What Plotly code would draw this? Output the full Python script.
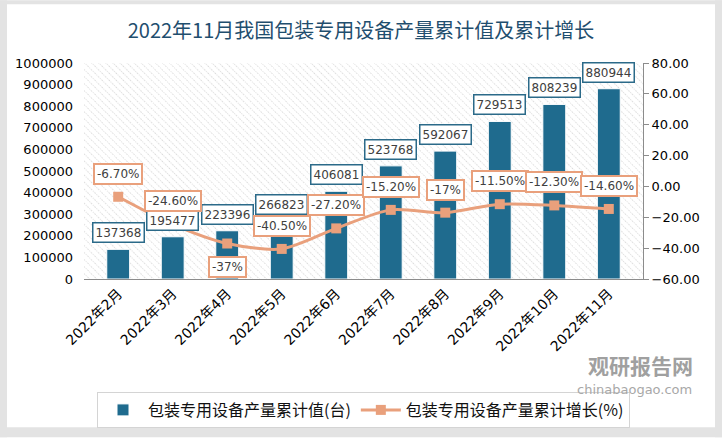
import base64
import plotly.graph_objects as go

# ---------------- data ----------------
months = ["2022年2月", "2022年3月", "2022年4月", "2022年5月", "2022年6月",
          "2022年7月", "2022年8月", "2022年9月", "2022年10月", "2022年11月"]
cum_values = [137368, 195477, 223396, 266823, 406081, 523768, 592067, 729513, 808239, 880944]
cum_growth = [-6.70, -24.60, -37.0, -40.50, -27.20, -15.20, -17.0, -11.50, -12.30, -14.60]
left_ticks = [0, 100000, 200000, 300000, 400000, 500000, 600000, 700000, 800000, 900000, 1000000]
right_ticks = [-60, -40, -20, 0, 20, 40, 60, 80]

bar_name = "包装专用设备产量累计值(台)"
line_name = "包装专用设备产量累计增长(%)"
title_text = "2022年11月我国包装专用设备产量累计值及累计增长"

# ---------------- layout geometry ----------------
W, H = 722, 439
L, R, T, B = 84, 643, 63, 280
PW, PH = R - L, B - T


def px_x(px):
    return (px - L) / PW


def px_y(py):
    return (B - py) / PH


BAR_COLOR = "#1f6b8e"
LINE_COLOR = "#e9a07c"
TEXT_COLOR = "#404040"


def fmt_pct(v):
    if float(v).is_integer():
        return f"{int(v)}%"
    return f"{v:.2f}%"


fig = go.Figure()
fig.add_trace(go.Bar(
    x=months, y=cum_values, name=bar_name,
    marker=dict(color=BAR_COLOR, line=dict(color="white", width=1)),
    yaxis="y",
))
fig.add_trace(go.Scatter(
    x=months, y=cum_growth, name=line_name, mode="lines+markers",
    line=dict(color=LINE_COLOR, width=3, shape="spline", smoothing=0.8),
    marker=dict(symbol="square", size=10, color=LINE_COLOR),
    yaxis="y2",
))

annotations = []
for m, v in zip(months, cum_values):
    annotations.append(dict(
        x=m, y=v, xref="x", yref="y", text=str(v), showarrow=False,
        yanchor="bottom", yshift=6,
        font=dict(family="DejaVu Sans", size=12, color=TEXT_COLOR),
        bgcolor="white", bordercolor="#2b6a89", borderwidth=1.5, borderpad=2,
    ))
below = {"2022年4月"}
for m, g in zip(months, cum_growth):
    annotations.append(dict(
        x=m, y=g, xref="x", yref="y2", text=fmt_pct(g), showarrow=False,
        yanchor="middle", yshift=-23 if m in below else 23,
        font=dict(family="DejaVu Sans", size=12, color=TEXT_COLOR),
        bgcolor="white", bordercolor=LINE_COLOR, borderwidth=2, borderpad=2,
    ))

# watermark
annotations.append(dict(
    x=px_x(640), y=px_y(366), xref="paper", yref="paper", text="<b>观研报告网</b>",
    xanchor="center", yanchor="middle",
    showarrow=False, font=dict(family="Noto Sans CJK SC", size=21, color="#a0a0a0"),
))
annotations.append(dict(
    x=px_x(634), y=px_y(391), xref="paper", yref="paper", text="chinabaogao.com",
    xanchor="center", yanchor="middle",
    showarrow=False, font=dict(family="DejaVu Sans", size=13, color="#a8a8a8"),
))

# hatched plot background
svg = (
    f"<svg xmlns='http://www.w3.org/2000/svg' width='{PW}' height='{PH}'>"
    "<defs><pattern id='p' width='5' height='5' patternUnits='userSpaceOnUse' "
    "patternTransform='rotate(-45)'>"
    "<line x1='0' y1='0' x2='0' y2='5' stroke='#b8b8b8' stroke-width='1' stroke-dasharray='1,1.2'/>"
    "</pattern></defs>"
    "<rect width='100%' height='100%' fill='white'/>"
    "<rect width='100%' height='100%' fill='url(#p)'/></svg>"
)
svg_uri = "data:image/svg+xml;base64," + base64.b64encode(svg.encode()).decode()

gray = "#e3e3e3"
shapes = [
    dict(type="rect", xref="paper", yref="paper", x0=px_x(0), x1=px_x(7), y0=px_y(H), y1=px_y(0),
         fillcolor=gray, line=dict(width=0), layer="above"),
    dict(type="rect", xref="paper", yref="paper", x0=px_x(715), x1=px_x(W), y0=px_y(H), y1=px_y(0),
         fillcolor=gray, line=dict(width=0), layer="above"),
    dict(type="rect", xref="paper", yref="paper", x0=px_x(0), x1=px_x(W), y0=px_y(4), y1=px_y(0),
         fillcolor=gray, line=dict(width=0), layer="above"),
    dict(type="rect", xref="paper", yref="paper", x0=px_x(0), x1=px_x(W), y0=px_y(H), y1=px_y(429),
         fillcolor=gray, line=dict(width=0), layer="above"),
]

fig.update_layout(
    width=W, height=H,
    margin=dict(l=L, r=W - R, t=T, b=H - B, pad=0),
    paper_bgcolor="white", plot_bgcolor="rgba(0,0,0,0)",
    title=dict(text=title_text, x=0.5, xref="container", xanchor="center",
               y=1 - 31 / H, yref="container", yanchor="middle",
               font=dict(family="Noto Sans CJK SC", size=20, color="#1f4e6e")),
    bargap=0.58,
    showlegend=True,
    legend=dict(orientation="h", x=0.5, xanchor="center", y=px_y(392), yanchor="top",
                bordercolor="#d4d4d4", borderwidth=1, bgcolor="white",
                font=dict(family="Noto Sans CJK SC", size=16, color="#111111"),
                itemwidth=40, traceorder="normal"),
    xaxis=dict(showgrid=False, showline=True, linecolor="#8c8c8c", linewidth=1,
               ticks="", tickangle=-45,
               tickfont=dict(family="DejaVu Sans, Noto Sans CJK SC", size=14, color="#000000")),
    yaxis=dict(range=[0, 1000000], tickvals=left_ticks, tickformat="d",
               showgrid=False, showline=False, zeroline=False, ticks="",
               ticklabelstandoff=10,
               tickfont=dict(family="DejaVu Sans", size=13, color="#000000")),
    yaxis2=dict(range=[-60, 80], tickvals=right_ticks, overlaying="y", side="right",
                tickformat=".2f", ticksuffix="%", showgrid=False, zeroline=False,
                showline=True, linecolor="#8c8c8c", linewidth=1,
                ticks="outside", ticklen=5, tickcolor="#8c8c8c",
                tickfont=dict(family="DejaVu Sans", size=13, color="#000000")),
    annotations=annotations,
    shapes=shapes,
    images=[dict(source=svg_uri, xref="paper", yref="paper", x=0, y=1, sizex=1, sizey=1,
                 xanchor="left", yanchor="top", sizing="stretch", layer="below")],
)

fig.write_html("out.html", config={"displayModeBar": False},
               post_script="document.body.style.margin='0';")
